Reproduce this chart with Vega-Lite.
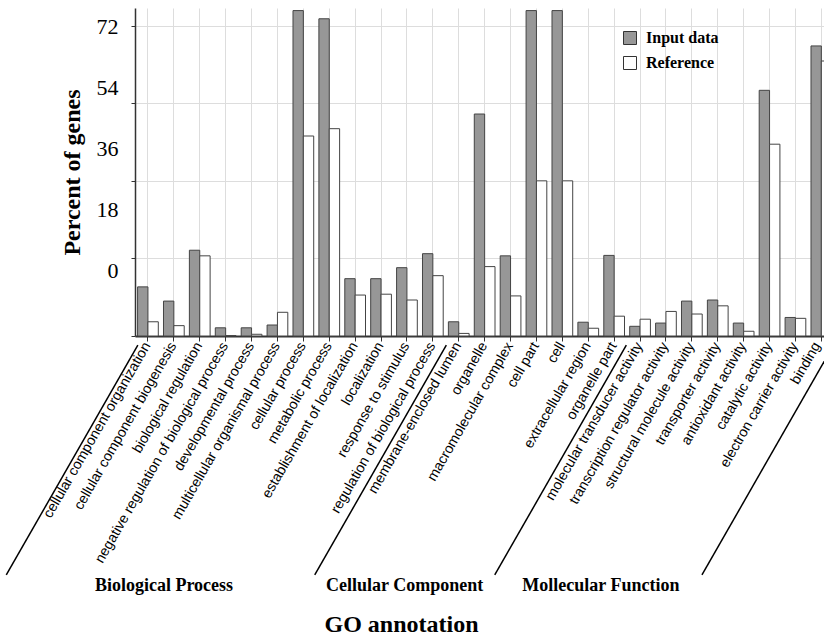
{
  "$schema": "https://vega.github.io/schema/vega-lite/v6.json",
  "autosize": {"type": "none"},
  "padding": {"left": 135, "top": 8, "right": 0, "bottom": 301},
  "width": 689,
  "height": 328,
  "background": "white",
  "config": {"view": {"stroke": null}},
  "datasets": {
    "go": [
      {"term": "cellular component organization", "series": "Input data", "percent": 11.4},
      {"term": "cellular component organization", "series": "Reference", "percent": 3.3},
      {"term": "cellular component biogenesis", "series": "Input data", "percent": 8.1},
      {"term": "cellular component biogenesis", "series": "Reference", "percent": 2.4},
      {"term": "biological regulation", "series": "Input data", "percent": 19.9},
      {"term": "biological regulation", "series": "Reference", "percent": 18.6},
      {"term": "negative regulation of biological process", "series": "Input data", "percent": 1.9},
      {"term": "negative regulation of biological process", "series": "Reference", "percent": 0.1},
      {"term": "developmental process", "series": "Input data", "percent": 1.9},
      {"term": "developmental process", "series": "Reference", "percent": 0.4},
      {"term": "multicellular organismal process", "series": "Input data", "percent": 2.55},
      {"term": "multicellular organismal process", "series": "Reference", "percent": 5.5},
      {"term": "cellular process", "series": "Input data", "percent": 75.5},
      {"term": "cellular process", "series": "Reference", "percent": 46.4},
      {"term": "metabolic process", "series": "Input data", "percent": 73.6},
      {"term": "metabolic process", "series": "Reference", "percent": 48.1},
      {"term": "establishment of localization", "series": "Input data", "percent": 13.3},
      {"term": "establishment of localization", "series": "Reference", "percent": 9.5},
      {"term": "localization", "series": "Input data", "percent": 13.3},
      {"term": "localization", "series": "Reference", "percent": 9.7},
      {"term": "response to stimulus", "series": "Input data", "percent": 15.85},
      {"term": "response to stimulus", "series": "Reference", "percent": 8.35},
      {"term": "regulation of biological process", "series": "Input data", "percent": 19.1},
      {"term": "regulation of biological process", "series": "Reference", "percent": 14.0},
      {"term": "membrane-enclosed lumen", "series": "Input data", "percent": 3.3},
      {"term": "membrane-enclosed lumen", "series": "Reference", "percent": 0.6},
      {"term": "organelle", "series": "Input data", "percent": 51.5},
      {"term": "organelle", "series": "Reference", "percent": 16.1},
      {"term": "macromolecular complex", "series": "Input data", "percent": 18.6},
      {"term": "macromolecular complex", "series": "Reference", "percent": 9.3},
      {"term": "cell part", "series": "Input data", "percent": 75.5},
      {"term": "cell part", "series": "Reference", "percent": 36.0},
      {"term": "cell", "series": "Input data", "percent": 75.5},
      {"term": "cell", "series": "Reference", "percent": 36.0},
      {"term": "extracellular region", "series": "Input data", "percent": 3.2},
      {"term": "extracellular region", "series": "Reference", "percent": 1.8},
      {"term": "organelle part", "series": "Input data", "percent": 18.7},
      {"term": "organelle part", "series": "Reference", "percent": 4.6},
      {"term": "molecular transducer activity", "series": "Input data", "percent": 2.25},
      {"term": "molecular transducer activity", "series": "Reference", "percent": 3.9},
      {"term": "transcription regulator activity", "series": "Input data", "percent": 3.0},
      {"term": "transcription regulator activity", "series": "Reference", "percent": 5.7},
      {"term": "structural molecule activity", "series": "Input data", "percent": 8.1},
      {"term": "structural molecule activity", "series": "Reference", "percent": 5.1},
      {"term": "transporter activity", "series": "Input data", "percent": 8.35},
      {"term": "transporter activity", "series": "Reference", "percent": 7.0},
      {"term": "antioxidant activity", "series": "Input data", "percent": 3.0},
      {"term": "antioxidant activity", "series": "Reference", "percent": 1.1},
      {"term": "catalytic activity", "series": "Input data", "percent": 57.0},
      {"term": "catalytic activity", "series": "Reference", "percent": 44.5},
      {"term": "electron carrier activity", "series": "Input data", "percent": 4.3},
      {"term": "electron carrier activity", "series": "Reference", "percent": 4.1},
      {"term": "binding", "series": "Input data", "percent": 67.3},
      {"term": "binding", "series": "Reference", "percent": 63.8}
    ],
    "separators": [
      {"x0": 0.11, "x1": -4.97, "y0": -2.09, "y1": -55.45},
      {"x0": 12.02, "x1": 6.94, "y0": -2.09, "y1": -55.45},
      {"x0": 18.97, "x1": 13.89, "y0": -2.09, "y1": -55.45},
      {"x0": 26.97, "x1": 21.89, "y0": -2.09, "y1": -55.45}
    ],
    "groups": [
      {"label": "Biological Process", "x": 1.12, "y": -59.2},
      {"label": "Cellular Component", "x": 10.41, "y": -59.2},
      {"label": "Mollecular Function", "x": 17.99, "y": -59.2}
    ]
  },
  "layer": [
    {
      "data": {"name": "go"},
      "mark": {"type": "bar", "stroke": "#444444", "strokeWidth": 1},
      "encoding": {
        "x": {
          "field": "term",
          "type": "nominal",
          "sort": null,
          "scale": {"range": [0, 699.3], "paddingInner": 0.2, "paddingOuter": 0.1},
          "axis": {
            "title": "GO annotation",
            "labelAngle": -60,
            "labelFont": "Liberation Sans",
            "labelFontSize": 14.2,
            "labelColor": "#000000",
            "labelLimit": 400,
            "labelPadding": 2,
            "labelOffset": {"condition": {"test": "datum.value === 'binding'", "value": -4}, "value": -0.5},
            "labelOverlap": false,
            "tickSize": 5,
            "tickColor": "#333333",
            "domainColor": "#333333",
            "domainWidth": 2,
            "grid": true,
            "gridColor": "#dddddd",
            "titleFont": "Liberation Serif",
            "titleFontSize": 24,
            "titleFontWeight": "bold",
            "titleColor": "#000000",
            "titleX": 266,
            "titleY": 295,
            "titleBaseline": "alphabetic"
          }
        },
        "xOffset": {"field": "series", "sort": ["Input data", "Reference"]},
        "y": {
          "field": "percent",
          "type": "quantitative",
          "scale": {"domain": [0, 76.1], "nice": false},
          "axis": {
            "values": [0, 18, 36, 54, 72],
            "labels": false,
            "title": null,
            "grid": true,
            "gridColor": "#dddddd",
            "domainColor": "#333333",
            "domainWidth": 1.5,
            "tickColor": "#333333",
            "tickSize": 4
          }
        },
        "fill": {
          "field": "series",
          "type": "nominal",
          "scale": {"domain": ["Input data", "Reference"], "range": ["#979797", "#ffffff"]},
          "legend": {
            "orient": "none",
            "legendX": 487,
            "legendY": 22,
            "title": null,
            "symbolType": "square",
            "symbolSize": 169,
            "symbolStrokeColor": "#333333",
            "symbolStrokeWidth": 1,
            "labelFont": "Liberation Serif",
            "labelFontSize": 16,
            "labelFontWeight": "bold",
            "labelColor": "#000000",
            "labelOffset": 8,
            "rowPadding": 7,
            "padding": 0
          }
        }
      }
    },
    {
      "data": {"values": [{"v": 0}]},
      "mark": {"type": "rule", "opacity": 0},
      "encoding": {
        "y": {
          "field": "v",
          "type": "quantitative",
          "scale": {"domain": [-19.3, 77.4], "nice": false, "zero": false},
          "axis": {
            "orient": "left",
            "values": [0, 18, 36, 54, 72],
            "ticks": false,
            "tickSize": 0,
            "domain": false,
            "grid": false,
            "labelFont": "Liberation Serif",
            "labelFontSize": 22,
            "labelColor": "#000000",
            "labelPadding": 17,
            "labelFlush": false,
            "labelOverlap": false,
            "title": "Percent of genes",
            "titleFont": "Liberation Serif",
            "titleFontSize": 24,
            "titleFontWeight": "bold",
            "titleColor": "#000000",
            "titlePadding": 12
          }
        }
      }
    },
    {
      "layer": [
        {
          "data": {"name": "separators"},
          "mark": {"type": "rule", "stroke": "#000000", "strokeWidth": 1.5},
          "encoding": {
            "x": {"field": "x0", "type": "quantitative", "scale": {"domain": [0, 27], "range": [0, 699.3], "nice": false, "zero": false}, "axis": null},
            "x2": {"field": "x1"},
            "y": {"field": "y0", "type": "quantitative", "scale": {"domain": [0, 76.1], "nice": false}, "axis": null},
            "y2": {"field": "y1"}
          }
        },
        {
          "data": {"name": "groups"},
          "mark": {"type": "text", "font": "Liberation Serif", "fontSize": 18, "fontWeight": "bold", "baseline": "alphabetic", "align": "center", "color": "#000000"},
          "encoding": {
            "x": {"field": "x", "type": "quantitative", "axis": null},
            "y": {"field": "y", "type": "quantitative", "axis": null},
            "text": {"field": "label"}
          }
        }
      ]
    }
  ],
  "resolve": {"scale": {"x": "independent", "y": "independent"}}
}
